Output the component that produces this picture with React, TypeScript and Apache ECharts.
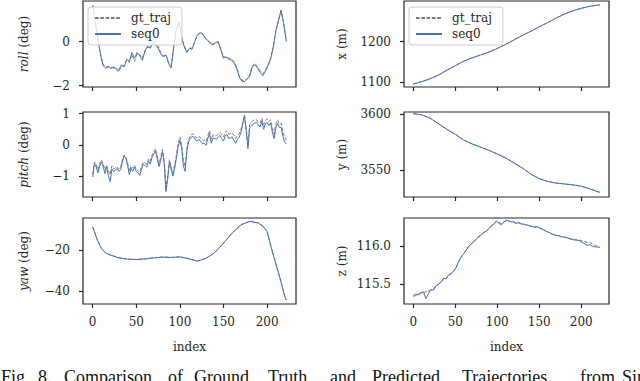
import React, { useEffect, useRef } from 'react';
import * as echarts from 'echarts';

// ---------------- data ----------------
const indexTicks = [0, 50, 100, 150, 200];

const rollIdx = [0,3,6,9,12,15,18,21,24,27,30,33,36,39,42,45,48,51,54,57,60,63,66,69,72,75,78,81,84,87,90,93,96,99,102,105,108,111,114,117,120,123,126,129,132,135,138,141,144,147,150,153,156,159,162,165,168,171,174,177,180,183,186,189,192,195,198,201,204,207,210,213,216,219,222];
const rollSeq0 = [1.66,0.9,0.1,-0.6,-1.1,-1.2,-1.15,-1.22,-1.15,-1.22,
  -1.3,-1.05,-1.15,-0.8,-0.9,-0.5,-0.75,-0.5,-0.65,-0.85,
  -0.4,-0.2,-0.3,0.0,-0.15,-0.3,-0.55,-0.7,-0.6,-1.0,
  -1.2,-0.2,0.6,0.9,0.2,-0.25,-0.5,-0.3,-0.35,0.0,
  0.3,0.4,0.35,0.15,0.05,-0.1,-0.15,-0.05,0.0,-0.4,
  -0.75,-0.7,-0.8,-0.85,-0.95,-1.2,-1.6,-1.8,-1.82,-1.7,
  -1.58,-1.15,-1.05,-1.2,-1.4,-1.55,-1.35,-1.1,-0.8,-0.25,
  0.5,0.95,1.43,0.8,0.0];
const rollGt = [1.62,0.85,0.05,-0.55,-1.05,-1.15,-1.12,-1.18,-1.2,-1.28,
  -1.38,-1.1,-1.1,-0.85,-0.95,-0.6,-0.9,-0.55,-0.6,-0.75,
  -0.45,-0.25,-0.3,-0.05,-0.1,-0.2,-0.5,-0.65,-0.6,-0.95,
  -1.1,-0.25,0.55,0.85,0.2,-0.2,-0.45,-0.3,-0.3,0.0,
  0.28,0.42,0.35,0.18,0.05,-0.05,-0.12,-0.05,-0.02,-0.35,
  -0.7,-0.7,-0.75,-0.78,-0.9,-1.15,-1.55,-1.75,-1.78,-1.68,
  -1.5,-1.1,-1.0,-1.15,-1.32,-1.45,-1.3,-1.05,-0.75,-0.25,
  0.45,0.95,1.38,0.82,0.05];
const rollTicks = [-2, 0];

const pitchIdx = [0,2,4,6,8,10,12,14,16,18,20,22,24,26,28,30,32,34,36,38,40,42,44,46,48,50,52,54,56,58,60,62,64,66,68,70,72,74,76,78,80,82,84,86,88,90,92,94,96,98,100,102,104,106,108,110,112,114,116,118,120,122,124,126,128,130,132,134,136,138,140,142,144,146,148,150,152,154,156,158,160,162,164,166,168,170,172,174,176,178,180,182,184,186,188,190,192,194,196,198,200,202,204,206,208,210,212,214,216,218,220,222];
const pitchSeq0 = [-1.03,-0.6,-0.7,-0.9,-0.68,-0.55,-0.7,-0.92,-0.72,-0.98,
  -1.18,-0.78,-0.86,-0.8,-0.76,-0.85,-0.8,-0.55,-0.36,-0.42,
  -0.65,-0.95,-0.75,-0.85,-0.72,-0.86,-0.9,-0.98,-0.78,-0.62,
  -0.66,-0.72,-0.52,-0.62,-0.4,-0.3,-0.2,-0.45,-0.7,-0.5,
  -0.22,-0.6,-1.5,-1.1,-0.55,-0.78,-1.0,-0.75,-0.42,-0.05,
  0.13,-0.1,-0.68,-0.85,-0.2,0.1,0.2,0.27,0.25,0.15,
  0.12,0.18,0.1,0.04,0.05,-0.02,0.2,0.35,0.05,0.22,
  0.2,0.18,0.25,0.3,0.2,0.12,0.3,0.33,0.2,0.22,
  0.25,0.15,0.05,0.18,0.24,0.4,0.65,0.93,0.45,-0.12,
  0.55,0.6,0.67,0.7,0.72,0.62,0.58,0.76,0.5,0.68,
  0.72,0.62,0.7,0.4,0.2,0.55,0.7,0.55,0.56,0.28,
  0.1,0.03];
const pitchGt = [-0.95,-0.55,-0.62,-0.8,-0.62,-0.48,-0.6,-0.8,-0.65,-0.82,
  -0.95,-0.68,-0.78,-0.72,-0.7,-0.78,-0.72,-0.5,-0.33,-0.38,
  -0.58,-0.85,-0.68,-0.75,-0.65,-0.78,-0.82,-0.88,-0.7,-0.55,
  -0.58,-0.62,-0.45,-0.52,-0.33,-0.22,-0.12,-0.35,-0.6,-0.4,
  -0.15,-0.5,-1.35,-1.0,-0.48,-0.7,-0.9,-0.65,-0.32,0.05,
  0.25,0.0,-0.5,-0.7,-0.1,0.18,0.28,0.35,0.33,0.25,
  0.22,0.28,0.2,0.15,0.15,0.1,0.3,0.45,0.18,0.32,
  0.3,0.3,0.35,0.4,0.32,0.25,0.4,0.45,0.35,0.35,
  0.38,0.3,0.2,0.3,0.35,0.5,0.72,0.95,0.55,0.0,
  0.65,0.72,0.78,0.8,0.8,0.72,0.7,0.85,0.65,0.78,
  0.83,0.75,0.8,0.55,0.35,0.68,0.8,0.68,0.7,0.42,
  0.25,0.15];
const pitchTicks = [-1, 0, 1];

const yawIdx = [0,5,10,15,20,30,40,50,60,70,80,90,100,110,120,130,140,150,160,170,180,190,195,200,205,210,215,220,222];
const yawSeq0 = [-8.5,-14.6,-19.2,-21.4,-22.3,-23.8,-24.4,-24.6,-24.3,-23.8,-23.4,-23.6,-23.3,-24.2,-25.4,-24.0,-21.2,-16.5,-11.5,-7.5,-5.75,-6.6,-8.1,-10.8,-19.2,-26.8,-34.2,-42.5,-44.6];
const yawGt = [-8.4,-14.5,-19.1,-21.3,-22.3,-23.7,-24.3,-24.5,-24.2,-23.7,-23.3,-23.5,-23.2,-24.1,-25.3,-23.9,-21.1,-16.4,-11.4,-7.4,-5.7,-6.5,-8.0,-10.7,-19.0,-26.6,-34.0,-42.3,-44.4];
const yawTicks = [-40, -20];

const posIdx = [0,10,20,30,40,50,60,70,80,90,100,110,120,130,140,150,160,170,180,190,200,210,220,222];
const xSeq0 = [1096,1102,1109,1118,1130,1141,1152,1160,1167,1174,1183,1193,1204,1215,1225,1236,1246,1257,1267,1275,1281,1286,1289,1289.5];
const xGt = [1096.3,1102.2,1109.4,1118.5,1130.3,1141.2,1151.8,1160.3,1167.2,1174.4,1183.3,1193.2,1204.1,1215.2,1225.3,1236.1,1246.3,1257.2,1267.1,1275.2,1281.2,1286.1,1289.2,1289.6];
const xTicks = [1100, 1200];

const ySeq0 = [3600.6,3599.5,3596.5,3591.5,3586.5,3582,3577,3573.5,3570.7,3567.8,3564.5,3561,3556.5,3552,3546.5,3542.5,3540,3538.6,3537.8,3537,3535.8,3533.5,3530.8,3530.4];
const yGt = [3600.5,3599.4,3596.4,3591.6,3586.6,3582.1,3577.1,3573.6,3570.8,3567.9,3564.6,3561.1,3556.6,3552.1,3546.6,3542.6,3540.1,3538.7,3537.9,3537.1,3535.9,3533.6,3530.9,3530.5];
const yTicks = [3550, 3600];

const zIdx = rollIdx;
const zSeq0 = [115.35,115.37,115.36,115.39,115.4,115.31,115.38,115.43,115.42,115.48,
  115.5,115.53,115.58,115.57,115.62,115.64,115.67,115.72,115.8,115.86,
  115.9,115.95,116.0,116.03,116.06,116.09,116.13,116.15,116.18,116.2,
  116.23,116.27,116.29,116.33,116.3,116.28,116.32,116.34,116.33,116.32,
  116.32,116.3,116.31,116.29,116.29,116.28,116.27,116.26,116.25,116.26,
  116.24,116.23,116.21,116.19,116.18,116.16,116.15,116.14,116.14,116.12,
  116.12,116.11,116.1,116.09,116.08,116.08,116.07,116.05,116.03,116.01,
  116.02,116.0,115.99,115.99,115.98];
const zGt = [115.34,115.35,115.37,115.38,115.39,115.4,115.41,115.42,115.44,115.47,
  115.5,115.53,115.56,115.58,115.61,115.64,115.67,115.72,115.79,115.85,
  115.9,115.95,115.99,116.03,116.06,116.09,116.12,116.15,116.18,116.2,
  116.23,116.26,116.29,116.32,116.31,116.3,116.32,116.33,116.33,116.32,
  116.31,116.3,116.3,116.29,116.28,116.28,116.27,116.26,116.25,116.25,
  116.24,116.22,116.21,116.19,116.18,116.16,116.15,116.14,116.13,116.12,
  116.12,116.11,116.1,116.09,116.09,116.08,116.08,116.07,116.06,116.05,
  116.05,116.03,116.01,116.0,115.99];
const zTicks = [115.5, 116.0];

const captionWords = ['Fig.', '8.', 'Comparison', 'of', 'Ground', 'Truth', 'and', 'Predicted', 'Trajectories', 'from', 'Sin'];

// ---------------- layout / style ----------------
const FONT = "'DejaVu Serif', serif";
const INK = '#262626';
const BLUE = '#4c72b0';
const GRAY = '#7f7f7f';

const captionX = [1, 38, 64, 168, 194, 268, 330, 372, 462, 580, 622];

const minus = (v: number) => String(v).replace('-', '\u2212');

type Panel = {
  name: string; idx: number[]; gt: number[]; seq: number[];
  min: number; max: number; ticks: number[]; fmt: (v: number) => string;
  left: number; top: number; width: number; height: number; col: number; row: number;
};

const panels: Panel[] = [
  { name: '{it|roll} (deg)', idx: rollIdx, gt: rollGt, seq: rollSeq0, min: -2.06, max: 1.84, ticks: rollTicks, fmt: minus, left: 83, top: 1, width: 213, height: 86, col: 0, row: 0 },
  { name: 'x (m)', idx: posIdx, gt: xGt, seq: xSeq0, min: 1089, max: 1299, ticks: xTicks, fmt: minus, left: 404, top: 1, width: 205, height: 86, col: 1, row: 0 },
  { name: '{it|pitch} (deg)', idx: pitchIdx, gt: pitchGt, seq: pitchSeq0, min: -1.67, max: 1.05, ticks: pitchTicks, fmt: minus, left: 83, top: 112, width: 213, height: 85, col: 0, row: 1 },
  { name: 'y (m)', idx: posIdx, gt: yGt, seq: ySeq0, min: 3526.2, max: 3602, ticks: yTicks, fmt: minus, left: 404, top: 112, width: 205, height: 85, col: 1, row: 1 },
  { name: '{it|yaw} (deg)', idx: yawIdx, gt: yawGt, seq: yawSeq0, min: -46.5, max: -4.1, ticks: yawTicks, fmt: minus, left: 83, top: 218, width: 213, height: 86, col: 0, row: 2 },
  { name: 'z (m)', idx: zIdx, gt: zGt, seq: zSeq0, min: 115.24, max: 116.37, ticks: zTicks, fmt: (v: number) => v.toFixed(1), left: 404, top: 218, width: 205, height: 86, col: 1, row: 2 },
];

const txt = { fontFamily: FONT, fontSize: 12, color: INK };

function buildOption(): any {
  const grid = panels.map(p => ({
    left: p.left, top: p.top, width: p.width, height: p.height,
    show: true, borderColor: INK, borderWidth: 1.2, backgroundColor: 'transparent',
  }));
  const xAxis = panels.map((p, k) => ({
    type: 'value', gridIndex: k, min: -11.1, max: 233.1,
    axisLine: { show: false, onZero: false }, splitLine: { show: false },
    axisTick: { show: true, customValues: indexTicks, length: 4, lineStyle: { color: INK, width: 1.2 } },
    axisLabel: { show: p.row === 2, customValues: indexTicks, margin: 12, ...txt },
    name: p.row === 2 ? 'index' : '', nameLocation: 'middle', nameGap: 37, nameTextStyle: txt,
  }));
  const yAxis = panels.map((p, k) => ({
    type: 'value', gridIndex: k, min: p.min, max: p.max,
    axisLine: { show: false, onZero: false }, splitLine: { show: false },
    axisTick: { show: true, customValues: p.ticks, length: 4, lineStyle: { color: INK, width: 1.2 } },
    axisLabel: { show: true, customValues: p.ticks, margin: 13, formatter: p.fmt, ...txt },
    name: p.name, nameLocation: 'middle', nameGap: p.col === 0 ? 53 : 56,
    nameTextStyle: { ...txt, rich: { it: { ...txt, fontStyle: 'italic' } } },
  }));
  const series: any[] = [];
  panels.forEach((p, k) => {
    series.push({
      name: 'gt_traj', type: 'line', xAxisIndex: k, yAxisIndex: k, symbol: 'none', silent: true,
      data: p.idx.map((x, j) => [x, p.gt[j]]),
      lineStyle: { color: GRAY, width: 1, type: [3.7, 1.6] }, itemStyle: { color: GRAY },
    });
    series.push({
      name: 'seq0', type: 'line', xAxisIndex: k, yAxisIndex: k, symbol: 'none', silent: true,
      data: p.idx.map((x, j) => [x, p.seq[j]]),
      lineStyle: { color: BLUE, width: 1 }, itemStyle: { color: BLUE },
    });
  });
  const legend = [88, 409].map(left => ({
    data: ['gt_traj', 'seq0'], left, top: 7, orient: 'vertical', selectedMode: false,
    backgroundColor: 'rgba(255,255,255,0.8)', borderColor: '#cccccc', borderWidth: 1, borderRadius: 3,
    padding: [5, 11, 5, 6], itemGap: 4, itemWidth: 26, itemHeight: 14,
    itemStyle: { opacity: 0 },
    textStyle: { ...txt, padding: [0, 0, 0, 5] },
  }));
  const graphic = captionWords.map((w, k) => ({
    type: 'text', x: captionX[k], y: 386, silent: true,
    style: { text: w, fontFamily: "'Liberation Serif', serif", fontSize: 18, fill: '#111', verticalAlign: 'bottom' },
  }));
  return { animation: false, grid, xAxis, yAxis, series, legend, graphic };
}

export default function App() {
  const ref = useRef<HTMLDivElement>(null);
  useEffect(() => {
    if (!ref.current) return;
    const chart = echarts.init(ref.current, undefined, { renderer: 'svg' });
    chart.setOption(buildOption());
    return () => chart.dispose();
  }, []);
  return <div ref={ref} style={{ position: 'fixed', left: 0, top: 0, width: 640, height: 381, background: '#fff' }} />;
}
